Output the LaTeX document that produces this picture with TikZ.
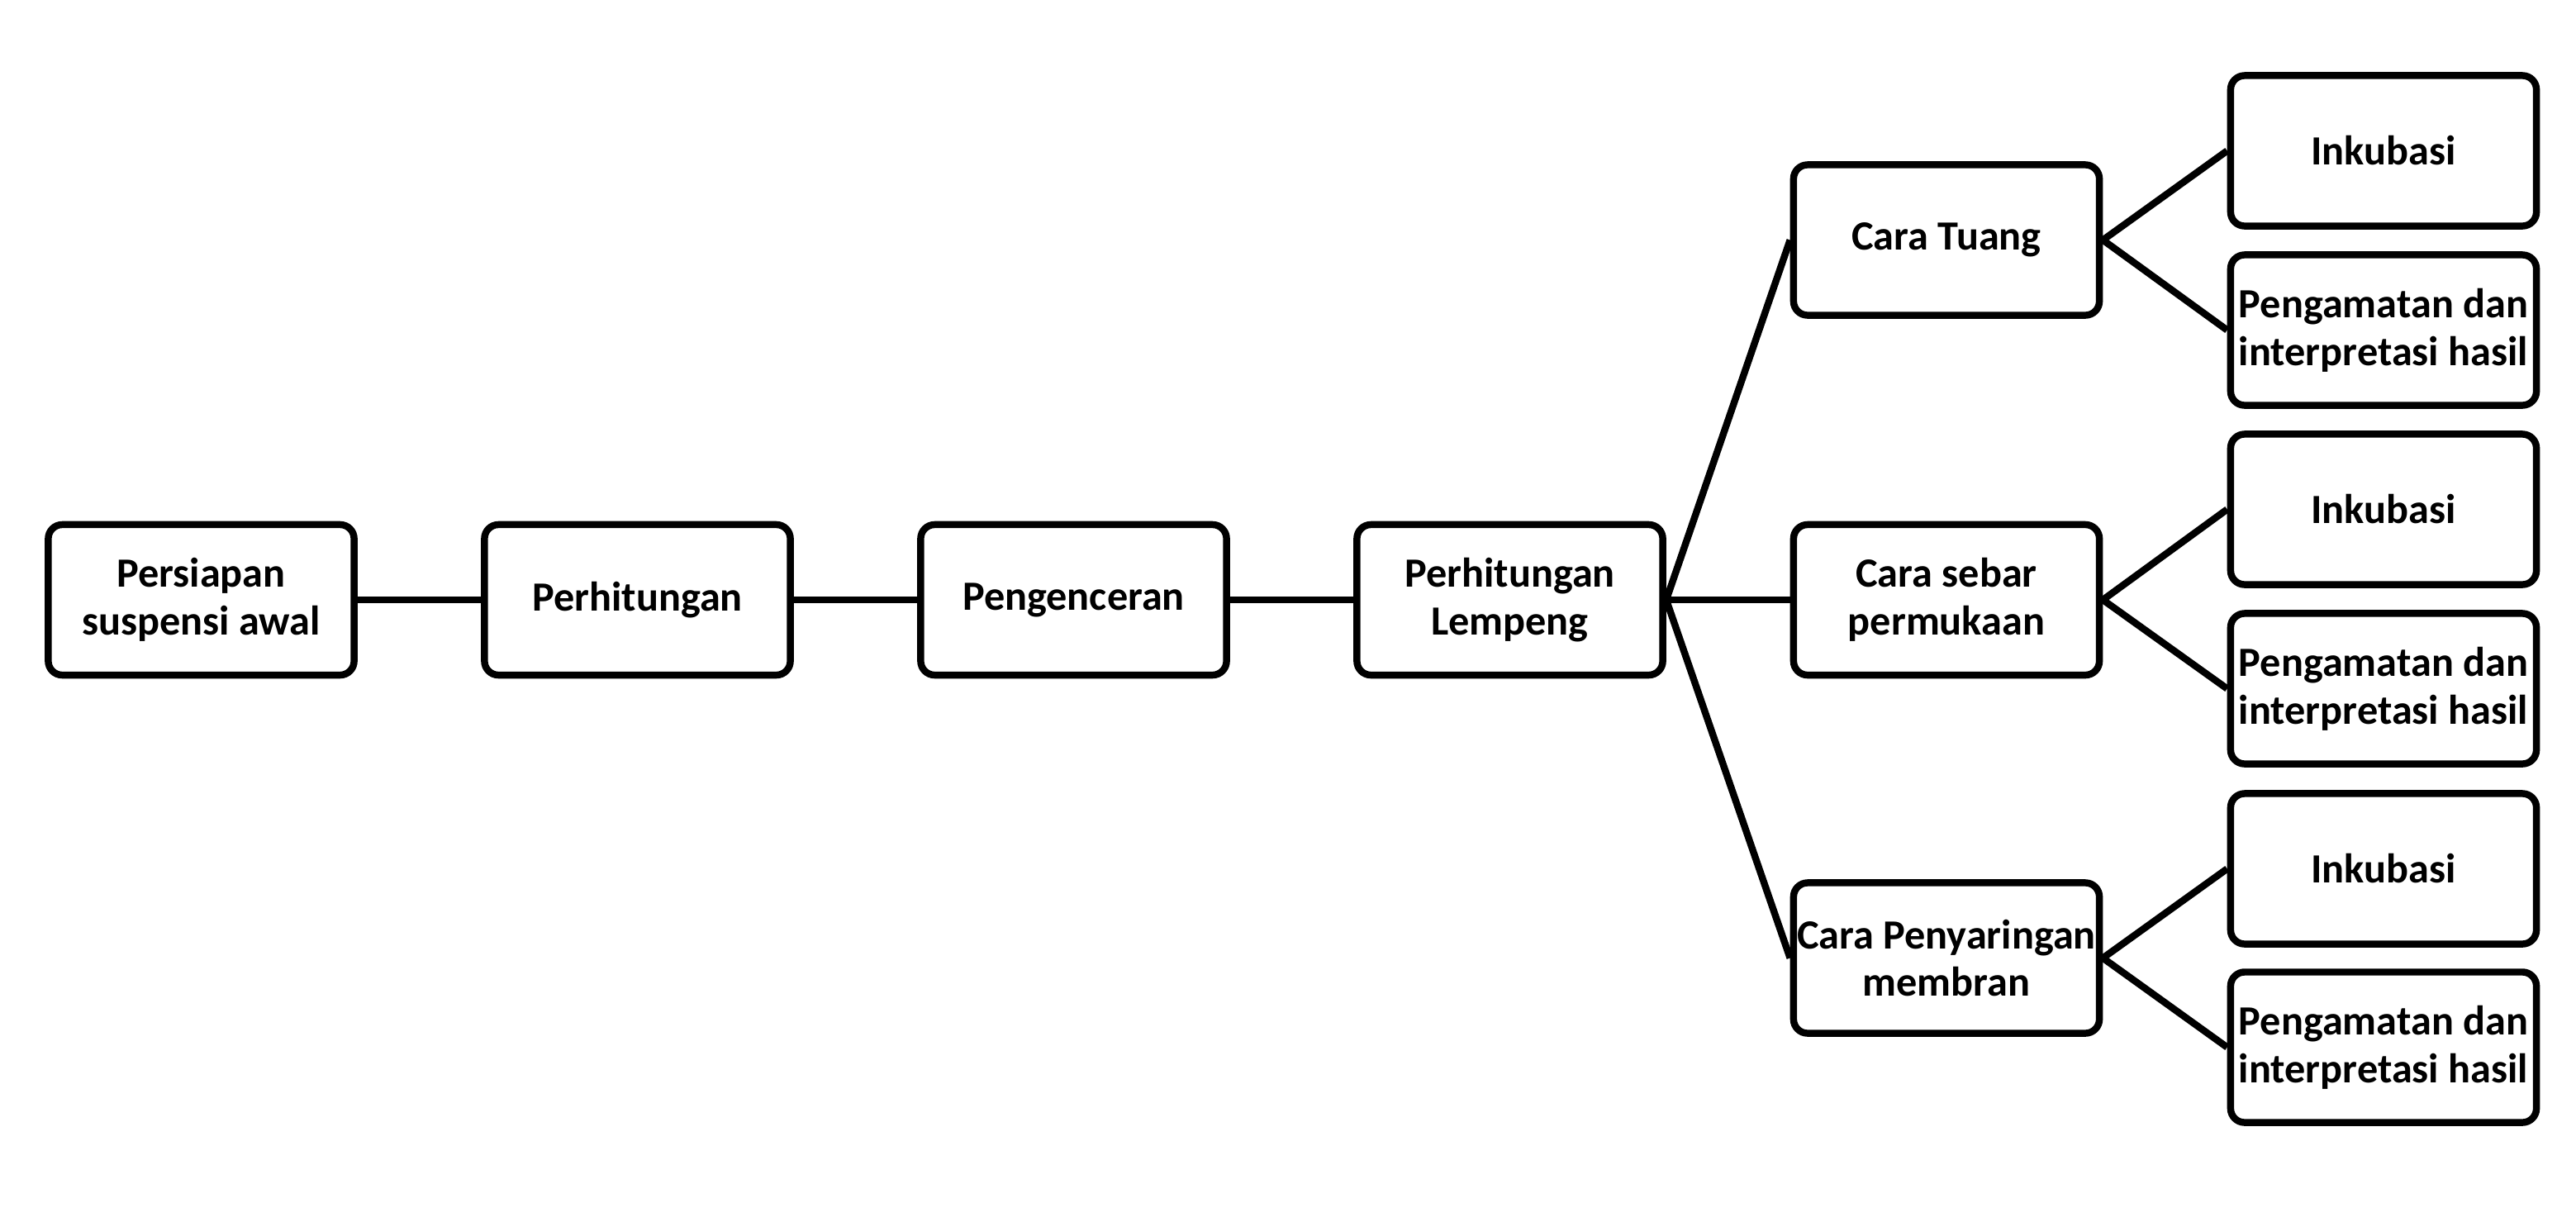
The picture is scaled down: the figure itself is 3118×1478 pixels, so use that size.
\documentclass[tikz,border=0pt]{standalone}
\usepackage{fontspec}
\setmainfont{Carlito}
\begin{document}
\begin{tikzpicture}[x=0.01cm,y=-0.01cm,
  box/.style={draw=black,line width=2.4pt,rounded corners=0.17cm,fill=white,
    minimum width=3.7cm,minimum height=1.82cm,inner sep=0pt,align=center,
    font=\fontsize{14.3pt}{16.4pt}\selectfont\bfseries},
  link/.style={line width=2.4pt}]
\fill[white] (0,0) rectangle (3118,1478);
\useasboundingbox (0,0) rectangle (3118,1478);
\node[box] (a) at (243.5,726) {Persiapan\\suspensi awal};
\node[box] (b) at (771.5,726) {Perhitungan};
\node[box] (c) at (1299.5,726) {Pengenceran};
\node[box] (d) at (1827.5,726) {Perhitungan\\Lempeng};
\node[box] (t) at (2356,290.5) {Cara Tuang};
\node[box] (s) at (2356,726) {Cara sebar\\permukaan};
\node[box] (p) at (2356,1159.5) {Cara Penyaringan\\membran};
\node[box] (t1) at (2885,182.5) {Inkubasi};
\node[box] (t2) at (2885,399.5) {Pengamatan dan\\interpretasi hasil};
\node[box] (s1) at (2885,616.5) {Inkubasi};
\node[box] (s2) at (2885,833.5) {Pengamatan dan\\interpretasi hasil};
\node[box] (p1) at (2885,1051.5) {Inkubasi};
\node[box] (p2) at (2885,1267.5) {Pengamatan dan\\interpretasi hasil};
\draw[link] (a.east) -- (b.west);
\draw[link] (b.east) -- (c.west);
\draw[link] (c.east) -- (d.west);
\draw[link] (d.east) -- (t.west);
\draw[link] (d.east) -- (s.west);
\draw[link] (d.east) -- (p.west);
\draw[link] (t.east) -- (t1.west);
\draw[link] (t.east) -- (t2.west);
\draw[link] (s.east) -- (s1.west);
\draw[link] (s.east) -- (s2.west);
\draw[link] (p.east) -- (p1.west);
\draw[link] (p.east) -- (p2.west);
\end{tikzpicture}
\end{document}
